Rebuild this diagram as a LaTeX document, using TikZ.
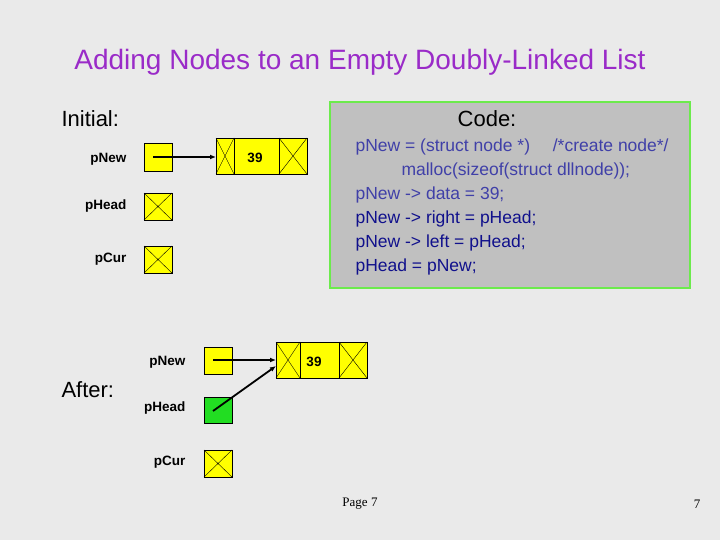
\documentclass[tikz,border=0pt]{standalone}
\usepackage{fontspec}
\setmainfont{Liberation Sans}
\newfontfamily\serifpage{Liberation Serif}
\usetikzlibrary{arrows.meta}
\definecolor{bg}{HTML}{EAEAEA}
\definecolor{titlec}{HTML}{9A2BC8}
\definecolor{codebg}{HTML}{C0C0C0}
\definecolor{codeframe}{HTML}{6CEB4C}
\definecolor{codea}{HTML}{4040A8}
\definecolor{codeb}{HTML}{10108C}
\definecolor{nodey}{HTML}{FFFF00}
\definecolor{nodeg}{HTML}{22DD22}
\begin{document}
\begin{tikzpicture}[x=1pt,y=-1pt,
  ptr/.style={draw=black,fill=nodey,line width=0.6pt},
  lbl/.style={anchor=east,font=\fontsize{13.5}{15}\selectfont\bfseries},
  codeline/.style={anchor=west,font=\fontsize{17.5}{20}\selectfont},
  cross/.style={draw=black,line width=0.4pt},
  arr/.style={-{Latex[length=6pt,width=5pt]},line width=1.8pt}]
\fill[bg] (0,0) rectangle (720,540);
\useasboundingbox (0,0) rectangle (720,540);
\node[titlec,font=\fontsize{28}{32}\selectfont] (title) at (360,62) {Adding Nodes to an Empty Doubly-Linked List};
\node[anchor=west,font=\fontsize{22}{24}\selectfont] (init) at (58,119) {Initial:};
% code box
\draw[codeframe,fill=codebg,line width=2.5pt] (330,102) rectangle (690,288);
\node[font=\fontsize{22}{24}\selectfont] (codet) at (487,119) {Code:};
\node[codeline,codea] (c1) at (352,147) {pNew = (struct node *)\hspace{1.3em}/*create node*/};
\node[codeline,codea] (c2) at (398,171) {malloc(sizeof(struct dllnode));};
\node[codeline,codea] (c3) at (352,195) {pNew -> data = 39;};
\node[codeline,codeb] (c4) at (352,219) {pNew -> right = pHead;};
\node[codeline,codeb] (c5) at (352,243) {pNew -> left = pHead;};
\node[codeline,codeb] (c6) at (352,267) {pHead = pNew;};
% initial pointers
\node[lbl] (l1) at (130,159) {pNew};
\node[lbl] (l2) at (130,206) {pHead};
\node[lbl] (l3) at (130,259) {pCur};
\draw[ptr] (144,143) rectangle (172,171);
\coordinate (pn1) at (153,157);
\draw[ptr] (144,193) rectangle (172,220);
\draw[cross] (144,193) -- (172,220) (172,193) -- (144,220);
\draw[ptr] (144,246) rectangle (172,273);
\draw[cross] (144,246) -- (172,273) (172,246) -- (144,273);
% initial node
\draw[ptr] (216,138) rectangle (307,174);
\draw[black,line width=0.6pt] (234,138) -- (234,174) (279,138) -- (279,174);
\draw[cross] (216,138) -- (234,174) (234,138) -- (216,174);
\draw[cross] (279,138) -- (307,174) (307,138) -- (279,174);
\node[font=\fontsize{13.5}{15}\selectfont\bfseries] (n1) at (255,158) {39};
\coordinate (n1l) at (216,157);
\draw[arr] (pn1) -- (n1l);
% after
\node[anchor=west,font=\fontsize{22}{24}\selectfont] (after) at (58,390) {After:};
\node[lbl] (m1) at (189,362) {pNew};
\node[lbl] (m2) at (189,408) {pHead};
\node[lbl] (m3) at (189,462) {pCur};
\draw[ptr] (204,347) rectangle (232,374);
\draw[ptr,fill=nodeg] (204,397) rectangle (232,423);
\draw[ptr] (204,450) rectangle (232,477);
\draw[cross] (204,450) -- (232,477) (232,450) -- (204,477);
\coordinate (pn2) at (213,360);
\coordinate (ph2) at (213,411);
\draw[ptr] (276,342) rectangle (367,378);
\draw[black,line width=0.6pt] (300,342) -- (300,378) (339,342) -- (339,378);
\draw[cross] (276,342) -- (300,378) (300,342) -- (276,378);
\draw[cross] (339,342) -- (367,378) (367,342) -- (339,378);
\node[font=\fontsize{13.5}{15}\selectfont\bfseries] (n2) at (314,362) {39};
\coordinate (n2a) at (276,360);
\coordinate (n2b) at (276,366);
\draw[arr] (pn2) -- (n2a);
\draw[arr] (ph2) -- (n2b);
% footer
\node[font=\serifpage\fontsize{13}{15}\selectfont] (pg) at (360,504) {Page 7};
\node[font=\serifpage\fontsize{13}{15}\selectfont] (pgn) at (697,504) {7};
\end{tikzpicture}
\end{document}
